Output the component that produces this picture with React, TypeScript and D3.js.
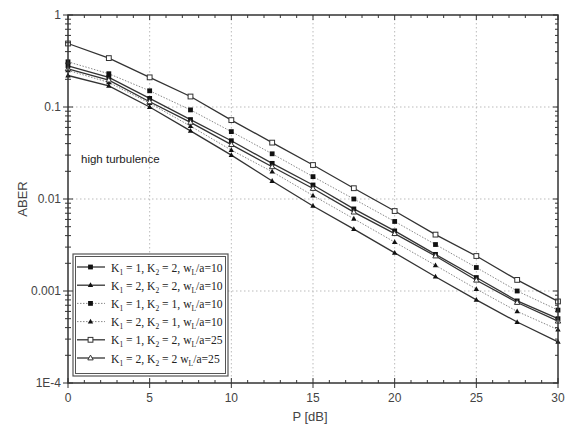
import React from "react";
import * as d3 from "d3";

const pValues = [0, 2.5, 5, 7.5, 10, 12.5, 15, 17.5, 20, 22.5, 25, 27.5, 30];

const s_K1_1_K2_2_w10 = [0.28, 0.21, 0.124, 0.073, 0.043, 0.0244, 0.0142, 0.0078, 0.0045, 0.0025, 0.0014, 0.00078, 0.0005];
const s_K1_2_K2_2_w10 = [0.22, 0.17, 0.1, 0.055, 0.03, 0.0157, 0.0084, 0.0047, 0.0026, 0.00143, 0.0008, 0.00046, 0.00028];
const s_K1_1_K2_1_w10 = [0.31, 0.23, 0.15, 0.093, 0.054, 0.031, 0.0175, 0.01, 0.0057, 0.0032, 0.0018, 0.001, 0.00062];
const s_K1_2_K2_1_w10 = [0.25, 0.185, 0.11, 0.062, 0.034, 0.0198, 0.0109, 0.0061, 0.0034, 0.0019, 0.00105, 0.0006, 0.00038];
const s_K1_1_K2_2_w25 = [0.49, 0.34, 0.21, 0.13, 0.072, 0.041, 0.0234, 0.0131, 0.0074, 0.0041, 0.0024, 0.00132, 0.00077];
const s_K1_2_K2_2_w25 = [0.26, 0.196, 0.114, 0.068, 0.039, 0.0224, 0.013, 0.0072, 0.0042, 0.0024, 0.00131, 0.00075, 0.00047];

const xTicks = [0, 5, 10, 15, 20, 25, 30];
const yTicks = [1, 0.1, 0.01, 0.001, 0.0001];
const yTickLabels = ["1", "0.1", "0.01", "0.001", "1E-4"];

type Series = { k1: number; k2: number; w: number; comma: boolean; values: number[]; dotted: boolean; marker: "sq" | "tri" | "osq" | "otri" };
const series: Series[] = [
  { k1: 1, k2: 2, w: 10, comma: true, values: s_K1_1_K2_2_w10, dotted: false, marker: "sq" },
  { k1: 2, k2: 2, w: 10, comma: true, values: s_K1_2_K2_2_w10, dotted: false, marker: "tri" },
  { k1: 1, k2: 1, w: 10, comma: true, values: s_K1_1_K2_1_w10, dotted: true, marker: "sq" },
  { k1: 2, k2: 1, w: 10, comma: true, values: s_K1_2_K2_1_w10, dotted: true, marker: "tri" },
  { k1: 1, k2: 2, w: 25, comma: true, values: s_K1_1_K2_2_w25, dotted: false, marker: "osq" },
  { k1: 2, k2: 2, w: 25, comma: false, values: s_K1_2_K2_2_w25, dotted: false, marker: "otri" },
];

const W = 565, H = 431;
const L = 68, R = 558, T = 15, B = 383;

function Marker({ type, x, y }: { type: string; x: number; y: number }) {
  const s = 2.4;
  if (type === "sq") return <rect x={x - s} y={y - s} width={2 * s} height={2 * s} fill="#111" />;
  if (type === "osq") return <rect x={x - s} y={y - s} width={2 * s} height={2 * s} fill="#fff" stroke="#333" strokeWidth={1} />;
  const pts = `${x},${y - s - 0.5} ${x - s - 0.3},${y + s - 0.5} ${x + s + 0.3},${y + s - 0.5}`;
  if (type === "tri") return <polygon points={pts} fill="#111" />;
  return <polygon points={pts} fill="#fff" stroke="#333" strokeWidth={1} />;
}

export default function App() {
  const x = d3.scaleLinear().domain([0, 30]).range([L, R]);
  const y = d3.scaleLog().domain([1e-4, 1]).range([B, T]);
  const line = d3.line<number>().x((_, i) => x(pValues[i])).y((v) => y(v));
  const font = "'Liberation Sans', Arial, sans-serif";
  const xMinor = d3.range(0, 31, 1).filter((v) => v % 5 !== 0);
  const yMinor: number[] = [];
  for (let e = -4; e < 0; e++) for (let m = 2; m <= 9; m++) yMinor.push(m * Math.pow(10, e));

  return (
    <svg width={W} height={H} style={{ position: "absolute", left: 0, top: 0, background: "#fff" }}>
      {xTicks.slice(1, -1).map((t) => (
        <line key={"gx" + t} x1={x(t)} x2={x(t)} y1={T} y2={B} stroke="#bbb" strokeWidth={1} strokeDasharray="1.5,2.5" />
      ))}
      {yTicks.slice(1, -1).map((t) => (
        <line key={"gy" + t} x1={L} x2={R} y1={y(t)} y2={y(t)} stroke="#bbb" strokeWidth={1} strokeDasharray="1.5,2.5" />
      ))}
      {series.map((s, i) => (
        <g key={"s" + i}>
          <path d={line(s.values) || ""} fill="none" stroke={s.dotted ? "#888" : "#333"} strokeWidth={s.dotted ? 1 : 1.3} strokeDasharray={s.dotted ? "1.5,1.5" : undefined} />
          {s.values.map((v, j) => (
            <Marker key={j} type={s.marker} x={x(pValues[j])} y={y(v)} />
          ))}
        </g>
      ))}
      <rect x={L} y={T} width={R - L} height={B - T} fill="none" stroke="#333" strokeWidth={1.5} />
      {xTicks.map((t) => (
        <g key={"xt" + t}>
          <line x1={x(t)} x2={x(t)} y1={B - 5} y2={B + 5} stroke="#333" />
          <line x1={x(t)} x2={x(t)} y1={T} y2={T + 5} stroke="#333" />
          <text x={x(t)} y={B + 19} textAnchor="middle" fontFamily={font} fontSize={12} fill="#444">{t}</text>
        </g>
      ))}
      {xMinor.map((t) => (
        <g key={"xm" + t}>
          <line x1={x(t)} x2={x(t)} y1={B - 3} y2={B} stroke="#333" />
          <line x1={x(t)} x2={x(t)} y1={T} y2={T + 3} stroke="#333" />
        </g>
      ))}
      {yTicks.map((t, i) => (
        <g key={"yt" + t}>
          <line x1={L - 5} x2={L + 5} y1={y(t)} y2={y(t)} stroke="#333" />
          <line x1={R - 5} x2={R} y1={y(t)} y2={y(t)} stroke="#333" />
          <text x={L - 7} y={y(t) + 4} textAnchor="end" fontFamily={font} fontSize={12} fill="#444">{yTickLabels[i]}</text>
        </g>
      ))}
      {yMinor.map((t) => (
        <g key={"ym" + t}>
          <line x1={L - 3} x2={L + 3} y1={y(t)} y2={y(t)} stroke="#333" />
          <line x1={R - 3} x2={R} y1={y(t)} y2={y(t)} stroke="#333" />
        </g>
      ))}
      <text x={310} y={421} textAnchor="middle" fontFamily={font} fontSize={13} fill="#444">P [dB]</text>
      <text transform={`translate(27,${(T + B) / 2}) rotate(-90)`} textAnchor="middle" fontFamily={font} fontSize={13} fill="#444">ABER</text>
      <text x={81} y={163} fontFamily={font} fontSize={11.5} fill="#222">high turbulence</text>
      <rect x={73} y={254} width={155} height={122} fill="#fff" stroke="#555" strokeWidth={1.2} />
      <rect x={75.5} y={256.5} width={150} height={117} fill="none" stroke="#555" strokeWidth={1} />
      {series.map((s, i) => {
        const ly = 267 + i * 18.2;
        return (
          <g key={"lg" + i}>
            <line x1={77} x2={105} y1={ly} y2={ly} stroke={s.dotted ? "#888" : "#333"} strokeWidth={s.dotted ? 1 : 1.3} strokeDasharray={s.dotted ? "1.5,1.5" : undefined} />
            <Marker type={s.marker} x={90.5} y={ly} />
            <text x={111} y={ly + 4.5} fontFamily="'Liberation Serif', 'Times New Roman', serif" fontSize={11.6} fill="#222">
              K<tspan fontSize={7.5} dy={3}>1</tspan><tspan dy={-3}> = {s.k1}, K</tspan><tspan fontSize={7.5} dy={3}>2</tspan><tspan dy={-3}> = {s.k2}{s.comma ? "," : ""} w</tspan><tspan fontSize={7.5} dy={3}>L</tspan><tspan dy={-3}>/a={s.w}</tspan>
            </text>
          </g>
        );
      })}
    </svg>
  );
}
